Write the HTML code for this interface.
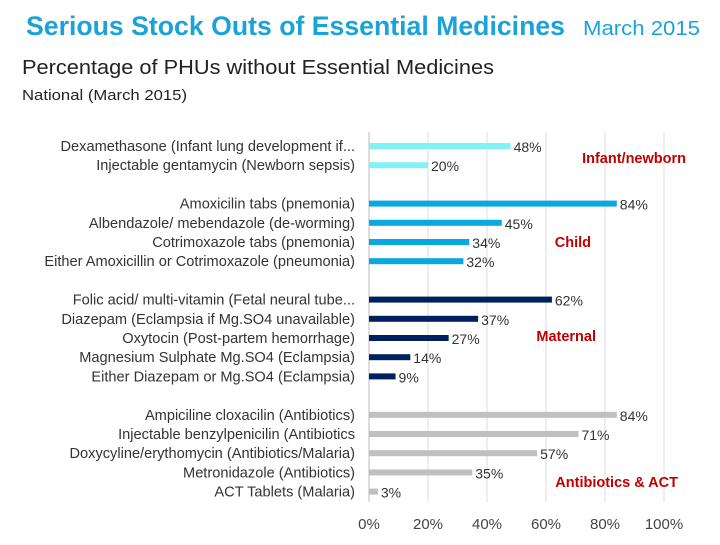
<!DOCTYPE html>
<html><head><meta charset="utf-8"><style>
body{margin:0;background:#fff;width:720px;height:540px;overflow:hidden;font-family:"Liberation Sans",sans-serif;}
svg text{font-family:"Liberation Sans",sans-serif;}
</style></head><body>
<svg id="c" width="720" height="540">
<text x="26" y="35" font-size="26.5" fill="#1aa3d9" font-weight="bold" textLength="539" lengthAdjust="spacingAndGlyphs">Serious Stock Outs of Essential Medicines</text>
<text x="583" y="35" font-size="20" fill="#1aa3d9" textLength="117" lengthAdjust="spacingAndGlyphs">March 2015</text>
<text x="22" y="74" font-size="20" fill="#222" textLength="472" lengthAdjust="spacingAndGlyphs">Percentage of PHUs without Essential Medicines</text>
<text x="22" y="100" font-size="15" fill="#222" textLength="165" lengthAdjust="spacingAndGlyphs">National (March 2015)</text>
<g id="grid"></g><g id="bars"></g><g id="labels"></g>
</svg>
<script>
const categories=["Dexamethasone (Infant lung development if...","Injectable gentamycin (Newborn sepsis)",
"Amoxicilin tabs (pnemonia)","Albendazole/ mebendazole (de-worming)","Cotrimoxazole tabs (pnemonia)","Either Amoxicillin or Cotrimoxazole (pneumonia)",
"Folic acid/ multi-vitamin (Fetal neural tube...","Diazepam (Eclampsia if Mg.SO4 unavailable)","Oxytocin (Post-partem hemorrhage)","Magnesium Sulphate Mg.SO4 (Eclampsia)","Either Diazepam or Mg.SO4 (Eclampsia)",
"Ampiciline cloxacilin (Antibiotics)","Injectable benzylpenicilin (Antibiotics","Doxycyline/erythomycin (Antibiotics/Malaria)","Metronidazole (Antibiotics)","ACT Tablets (Malaria)"];
const values=[48,20,84,45,34,32,62,37,27,14,9,84,71,57,35,3];
const groups=[0,0,1,1,1,1,2,2,2,2,2,3,3,3,3,3];
const groupNames=["Infant/newborn","Child","Maternal","Antibiotics & ACT"];
const ticks=[0,20,40,60,80,100];
const colors=["#7ff3f8","#0aa8e0","#002060","#c0c0c0"];
const NS="http://www.w3.org/2000/svg";
const x=v=>369+v*2.95;
function yPos(i){const g=groups[i];return 146+i*19.2+g*19.2;}
function mk(t,a,p){const e=document.createElementNS(NS,t);for(const k in a)e.setAttribute(k,a[k]);document.getElementById(p).appendChild(e);return e;}
ticks.forEach(t=>{
 const l=mk('line',{x1:x(t),x2:x(t),y1:132,y2:502,stroke:t===0?'#bbb':'#ddd','stroke-width':1},'grid');
 
 
 const tx=mk('text',{x:x(t),y:529,'font-size':15,fill:'#444','text-anchor':'middle'},'labels');
 tx.textContent=t+'%';
 
 
});
values.forEach((v,i)=>{
 const y=yPos(i);
 const r=mk('rect',{x:x(0),y:y-3,width:x(v)-x(0),height:6,fill:colors[groups[i]]},'bars');
 
 
 const vl=mk('text',{x:x(v)+3,y:y+6,'font-size':14,fill:'#333'},'labels');
 vl.textContent=v+'%';
 
 
 const cl=mk('text',{x:355,y:y+5,'font-size':14.6,fill:'#333','text-anchor':'end'},'labels');
 cl.textContent=categories[i];
 
 
});
const gx=[[686,163],[591,247],[596,341],[678,487]];
groupNames.forEach((n,g)=>{
 const t=mk('text',{x:gx[g][0],y:gx[g][1],'font-size':14.5,'font-weight':'bold',fill:'#c00000','text-anchor':'end'},'labels');
 t.textContent=n;
 
 
});
</script>
</body></html>
